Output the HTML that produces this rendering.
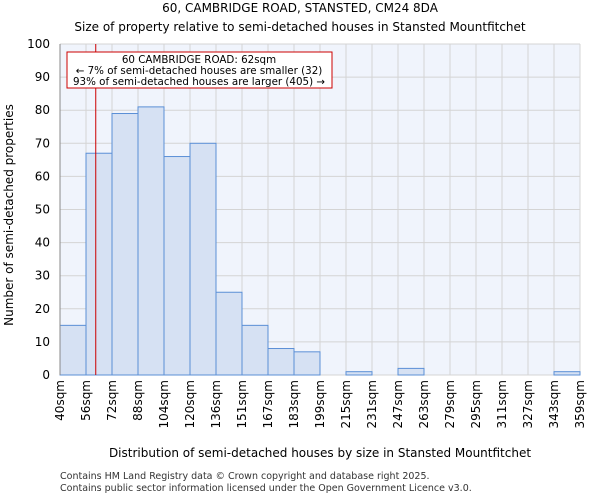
<!DOCTYPE html>
<html><head><meta charset="utf-8"><style>
body{margin:0;background:#fff;font-family:"DejaVu Sans","Liberation Sans",sans-serif;}
</style></head><body>
<svg width="600" height="500" xmlns="http://www.w3.org/2000/svg" font-family="DejaVu Sans, Liberation Sans, sans-serif">
<text x="300" y="12" text-anchor="middle" font-size="12">60, CAMBRIDGE ROAD, STANSTED, CM24 8DA</text>
<text x="300" y="31" text-anchor="middle" font-size="12">Size of property relative to semi-detached houses in Stansted Mountfitchet</text>
<rect x="60" y="44" width="520" height="331" fill="#f0f4fc"/>
<g id="grid"></g>
<g id="bars"></g>
<g id="axes"></g>
<line id="marker" stroke="#cc0000" stroke-width="1"/>
<rect x="67" y="52" width="265" height="36" fill="#fff" stroke="#cc0000" stroke-width="1"/>
<text x="199" y="63" text-anchor="middle" font-size="10.3">60 CAMBRIDGE ROAD: 62sqm</text>
<text x="199" y="74" text-anchor="middle" font-size="10.3">← 7% of semi-detached houses are smaller (32)</text>
<text x="199" y="85" text-anchor="middle" font-size="10.3">93% of semi-detached houses are larger (405) →</text>
<text transform="translate(13,215) rotate(-90)" text-anchor="middle" font-size="12">Number of semi-detached properties</text>
<text x="320" y="457" text-anchor="middle" font-size="12">Distribution of semi-detached houses by size in Stansted Mountfitchet</text>
<text x="60" y="479" font-size="9.5" fill="#333">Contains HM Land Registry data © Crown copyright and database right 2025.</text>
<text x="60" y="491" font-size="9.5" fill="#333">Contains public sector information licensed under the Open Government Licence v3.0.</text>
</svg>
<script>
const binLabels=["40sqm","56sqm","72sqm","88sqm","104sqm","120sqm","136sqm","151sqm","167sqm","183sqm","199sqm","215sqm","231sqm","247sqm","263sqm","279sqm","295sqm","311sqm","327sqm","343sqm","359sqm"];
const counts=[15,67,79,81,66,70,25,15,8,7,0,1,0,2,0,0,0,0,0,1];
const yTicks=[0,10,20,30,40,50,60,70,80,90,100];
const propertySize=62;
const binStart=40, binWidth=16;
const X0=60,X1=580,Y0=375,Y1=44;
const nb=counts.length;
const xi=i=>X0+(X1-X0)*i/nb;
const xv=v=>X0+(X1-X0)*(v-binStart)/(binWidth*nb);
const y=v=>Y0-(Y0-Y1)*v/100;
const NS="http://www.w3.org/2000/svg";
function mk(tag,parent,attrs){const e=document.createElementNS(NS,tag);for(const k in attrs)e.setAttribute(k,attrs[k]);document.getElementById(parent).appendChild(e);return e;}
for(let i=0;i<=nb;i++){
 const l=mk('line','grid',{x1:xi(i),x2:xi(i),y1:Y1,y2:Y0,stroke:'#d4d4d4','stroke-width':1});
 
 
 const t=mk('text','axes',{transform:`translate(${xi(i)+4},380) rotate(-90)`,'text-anchor':'end','font-size':12});
 t.textContent=binLabels[i];
 
 
}
yTicks.forEach(v=>{
 const l=mk('line','grid',{x1:X0,x2:X1,y1:y(v),y2:y(v),stroke:'#d4d4d4','stroke-width':1});
 
 
 const t=mk('text','axes',{x:50,y:y(v)+4,'text-anchor':'end','font-size':12});
 t.textContent=v;
 
 
});
counts.forEach((c,i)=>{
 if(c<=0)return;
 const r=mk('rect','bars',{x:xi(i),y:y(c),width:xi(i+1)-xi(i),height:Y0-y(c),fill:'#d6e1f3',stroke:'#5b8fd6','stroke-width':1});
 
 
});
const ax=mk('line','axes',{x1:X0,x2:X0,y1:Y1,y2:Y0,stroke:'#888'});


const m=document.getElementById('marker');
m.setAttribute('x1',xv(propertySize));m.setAttribute('x2',xv(propertySize));
m.setAttribute('y1',Y1);m.setAttribute('y2',Y0);
</script>
</body></html>
